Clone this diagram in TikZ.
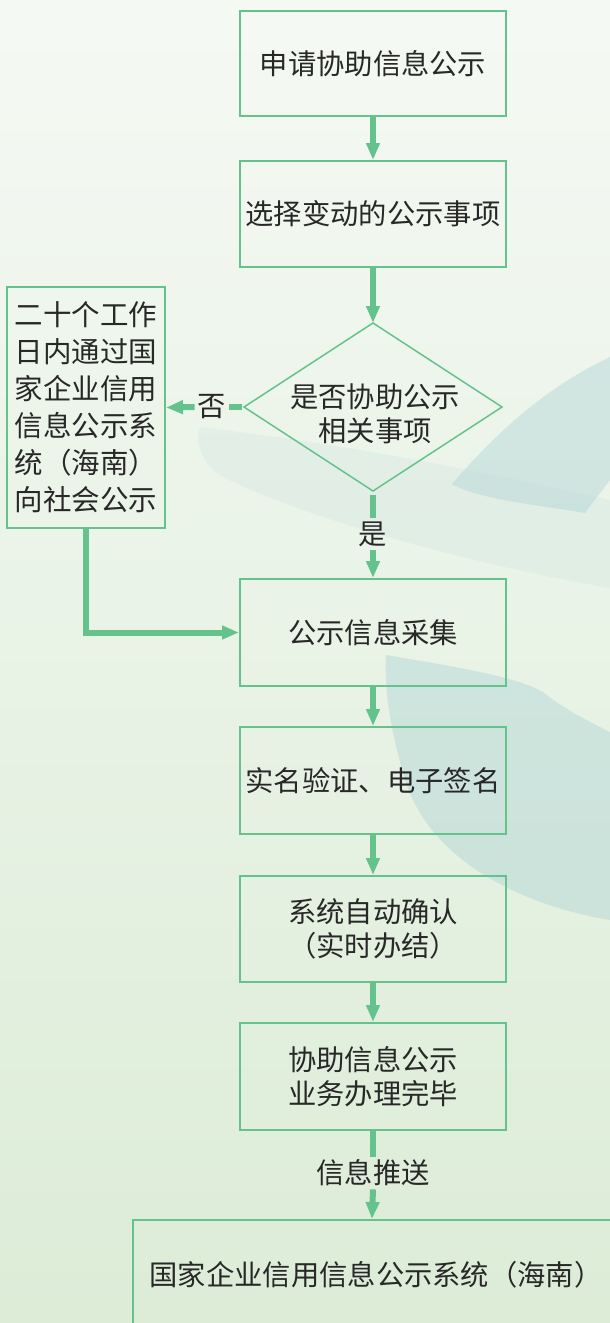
\documentclass[tikz,border=0pt]{standalone}
\usepackage{fontspec}
\setmainfont{Noto Sans CJK SC}
\usetikzlibrary{arrows.meta}
\definecolor{gline}{RGB}{100,195,140}
\definecolor{txt}{RGB}{40,40,40}
\definecolor{bgtop}{RGB}{245,249,244}
\definecolor{bgbot}{RGB}{220,236,215}
\definecolor{deco}{RGB}{175,212,214}
\begin{document}
\begin{tikzpicture}[x=1pt,y=-1pt,
  font=\fontsize{28.3}{34}\selectfont,
  box/.style={draw=gline, line width=2pt, text=txt, align=center, inner sep=0pt,
    minimum width=266pt, minimum height=106pt},
  flow/.style={draw=gline, line width=6pt, -{Triangle[length=17pt,width=13pt]}},
  seg/.style={draw=gline, line width=6pt},
  lab/.style={text=txt, inner sep=3pt},
  decofill/.style={fill=deco, opacity=.45}]
\useasboundingbox (0,0) rectangle (610,1323);
% background
\fill[top color=bgtop, bottom color=bgbot] (0,0) rectangle (610,1323);
\fill[decofill, opacity=.16] (200,427) .. controls (330,442) and (480,470) .. (610,500)
  -- (610,588) .. controls (450,560) and (300,515) .. (225,478)
  .. controls (200,465) and (195,440) .. (200,427) -- cycle;
\fill[decofill] (452,484) .. controls (490,440) and (540,390) .. (610,357)
  -- (610,480) -- (585,513) .. controls (540,505) and (480,500) .. (452,484) -- cycle;
\fill[decofill] (386,655) .. controls (450,666) and (515,676) .. (543,692)
  .. controls (565,710) and (590,722) .. (610,732) -- (610,920)
  .. controls (520,905) and (430,860) .. (405,780)
  .. controls (392,735) and (384,695) .. (386,655) -- cycle;

% nodes
\node[box, minimum height=105pt] (b1) at (373,63.5) {申请协助信息公示};
\node[box] (b2) at (373,214) {选择变动的公示事项};
\coordinate (dT) at (373,323);
\coordinate (dR) at (502,407);
\coordinate (dB) at (373,491);
\coordinate (dL) at (244,407);
\draw[gline, line width=1.5pt, line join=miter] (dT) -- (dR) -- (dB) -- (dL) -- cycle;
\node[text=txt, align=center, inner sep=0pt] (dtext) at (375,414) {是否协助公示\\相关事项};
\node[box, minimum width=158pt, minimum height=241pt, font=\fontsize{28.5}{37}\selectfont]
  (left) at (86,407.5) {二十个工作\\日内通过国\\家企业信用\\信息公示系\\统（海南）\\向社会公示};
\node[box, minimum height=107pt] (b3) at (373,632.5) {公示信息采集};
\node[box, minimum height=107pt] (b4) at (373,780.5) {实名验证、电子签名};
\node[box] (b5) at (373,929) {系统自动确认\\（实时办结）};
\node[box, minimum height=107pt] (b6) at (373,1076.5) {协助信息公示\\业务办理完毕};
\node[box, minimum width=478pt, minimum height=110pt] (b7) at (372,1275)
  {\hspace*{8pt}国家企业信用信息公示系统（海南）};

% labels
\node[lab] (no) at (212,407) {否};
\node[lab] (yes) at (373,534) {是};
\node[lab] (push) at (373,1173) {信息推送};

% connectors
\draw[flow] (b1.south) -- (b2.north);
\draw[flow] (b2.south) -- (dT);
\draw[seg, shorten <=2pt] (dL) -- (no.east);
\draw[flow] (no.west) -- (left.east);
\draw[seg, shorten <=4pt] (dB) -- (yes.north);
\draw[flow] (yes.south) -- (b3.north);
\draw[flow] (left.south) |- (b3.west);
\draw[flow] (b3.south) -- (b4.north);
\draw[flow] (b4.south) -- (b5.north);
\draw[flow] (b5.south) -- (b6.north);
\draw[seg] (b6.south) -- (push.north);
\draw[flow] (push.south) -- (b7.north);
\end{tikzpicture}
\end{document}
